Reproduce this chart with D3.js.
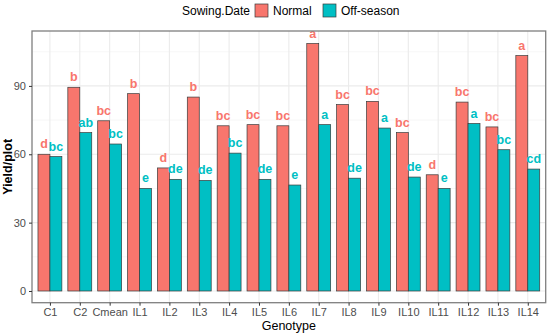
<!DOCTYPE html>
<html>
<head>
<meta charset="utf-8">
<script src="https://cdn.jsdelivr.net/npm/d3@7"></script>
<style>
  body { margin: 0; background: #fff; }
  text { font-family: "Liberation Sans", Arial, sans-serif; }
</style>
</head>
<body>
<div class="chart"></div>
<script>
// data
var genotypes = ["C1","C2","Cmean","IL1","IL2","IL3","IL4","IL5","IL6","IL7","IL8","IL9","IL10","IL11","IL12","IL13","IL14"];
var normalYield = [60, 89.4, 74.7, 86.6, 54, 85.1, 72.5, 73, 72.5, 108.6, 81.8, 83.2, 69.5, 51, 82.9, 72, 103.3];
var offYield    = [59, 69.5, 64.5, 45, 49, 48.5, 60.5, 49, 46.5, 73, 49.5, 71.5, 50, 45, 73.5, 62, 53.5];
var normalLetters = ["d","b","bc","b","d","b","bc","bc","bc","a","bc","bc","bc","d","bc","bc","a"];
var offLetters    = ["bc","ab","bc","e","de","de","bc","de","e","a","de","a","de","e","a","bc","cd"];
var seriesNames = ["Normal","Off-season"];
var yTicks = [0, 30, 60, 90];
var yMinor = [15, 45, 75, 105];

var width = 550, height = 335;
var panel = {left: 32, right: 545.7, top: 31, bottom: 302.7};
var colors = {"Normal": "#F8766D", "Off-season": "#00BFC4"};

var svg = d3.select(".chart").append("svg")
            .attr("width", width)
            .attr("height", height);

// discrete x with ggplot style 0.6 expansion
var step = (panel.right - panel.left) / (genotypes.length - 1 + 1.2);
var x = d3.scalePoint()
          .domain(genotypes)
          .range([panel.left + 0.6 * step, panel.right - 0.6 * step]);
var barW = step * 0.4;

var y = d3.scaleLinear()
          .domain([-5.14, 114.1])
          .range([panel.bottom, panel.top]);

// grid
var grid = svg.append("g");
grid.selectAll("line.minor")
    .data(yMinor)
    .enter().append("line")
    .attr("x1", panel.left).attr("x2", panel.right)
    .attr("y1", function(d){ return y(d); })
    .attr("y2", function(d){ return y(d); })
    .attr("stroke", "#f2f2f2").attr("stroke-width", 0.6);
grid.selectAll("line.major")
    .data(yTicks)
    .enter().append("line")
    .attr("x1", panel.left).attr("x2", panel.right)
    .attr("y1", function(d){ return y(d); })
    .attr("y2", function(d){ return y(d); })
    .attr("stroke", "#ebebeb").attr("stroke-width", 1.1);
grid.selectAll("line.vert")
    .data(genotypes)
    .enter().append("line")
    .attr("x1", function(d){ return x(d); })
    .attr("x2", function(d){ return x(d); })
    .attr("y1", panel.top).attr("y2", panel.bottom)
    .attr("stroke", "#ebebeb").attr("stroke-width", 1.1);

// bars
var rows = genotypes.map(function(g, i){
  return [
    {g: g, s: "Normal", v: normalYield[i], lab: normalLetters[i], off: -barW},
    {g: g, s: "Off-season", v: offYield[i], lab: offLetters[i], off: 0}
  ];
});
var flat = [].concat.apply([], rows);

svg.append("g").selectAll("rect")
   .data(flat)
   .enter().append("rect")
   .attr("x", function(d){ return x(d.g) + d.off; })
   .attr("y", function(d){ return y(d.v); })
   .attr("width", barW)
   .attr("height", function(d){ return y(0) - y(d.v); })
   .attr("fill", function(d){ return colors[d.s]; })
   .attr("stroke", "#3a3a3a")
   .attr("stroke-width", 0.7);

svg.append("g").selectAll("text")
   .data(flat)
   .enter().append("text")
   .attr("x", function(d){ return x(d.g) + d.off + barW / 2; })
   .attr("y", function(d){ return y(d.v) - 6; })
   .attr("text-anchor", "middle")
   .attr("font-size", 12.5)
   .attr("font-weight", "bold")
   .attr("fill", function(d){ return colors[d.s]; })
   .text(function(d){ return d.lab; });

// panel border
svg.append("rect")
   .attr("x", panel.left).attr("y", panel.top)
   .attr("width", panel.right - panel.left)
   .attr("height", panel.bottom - panel.top)
   .attr("fill", "none")
   .attr("stroke", "#7f7f7f")
   .attr("stroke-width", 1.3);

// axes
var yAxis = svg.append("g")
   .attr("transform", "translate(" + panel.left + ",0)")
   .call(d3.axisLeft(y).tickValues(yTicks).tickSize(3).tickPadding(3));
var xAxis = svg.append("g")
   .attr("transform", "translate(0," + panel.bottom + ")")
   .call(d3.axisBottom(x).tickSize(3).tickPadding(3));
[yAxis, xAxis].forEach(function(a){
  a.select(".domain").remove();
  a.selectAll(".tick line").attr("stroke", "#333");
  a.selectAll(".tick text")
   .attr("fill", "#4d4d4d")
   .attr("font-size", 11)
   .style("font-family", "Liberation Sans, Arial, sans-serif");
});

// axis titles
svg.append("text")
   .attr("x", (panel.left + panel.right) / 2)
   .attr("y", 330)
   .attr("text-anchor", "middle")
   .attr("font-size", 12.5)
   .attr("fill", "#000")
   .text("Genotype");
svg.append("text")
   .attr("transform", "translate(12," + (panel.top + panel.bottom) / 2 + ") rotate(-90)")
   .attr("text-anchor", "middle")
   .attr("font-size", 12.5)
   .attr("font-weight", "bold")
   .attr("fill", "#000")
   .text("Yield/plot");

// legend
var legend = svg.append("g");
legend.append("text")
      .attr("x", 182).attr("y", 15)
      .attr("font-size", 12)
      .text("Sowing.Date");
var keyX = [255, 323];
seriesNames.forEach(function(s, i){
  legend.append("rect")
        .attr("x", keyX[i]).attr("y", 4)
        .attr("width", 13).attr("height", 13)
        .attr("fill", colors[s])
        .attr("stroke", "#3a3a3a").attr("stroke-width", 0.7);
  legend.append("text")
        .attr("x", keyX[i] + 18).attr("y", 15)
        .attr("font-size", 12)
        .text(s);
});
</script>
</body>
</html>
